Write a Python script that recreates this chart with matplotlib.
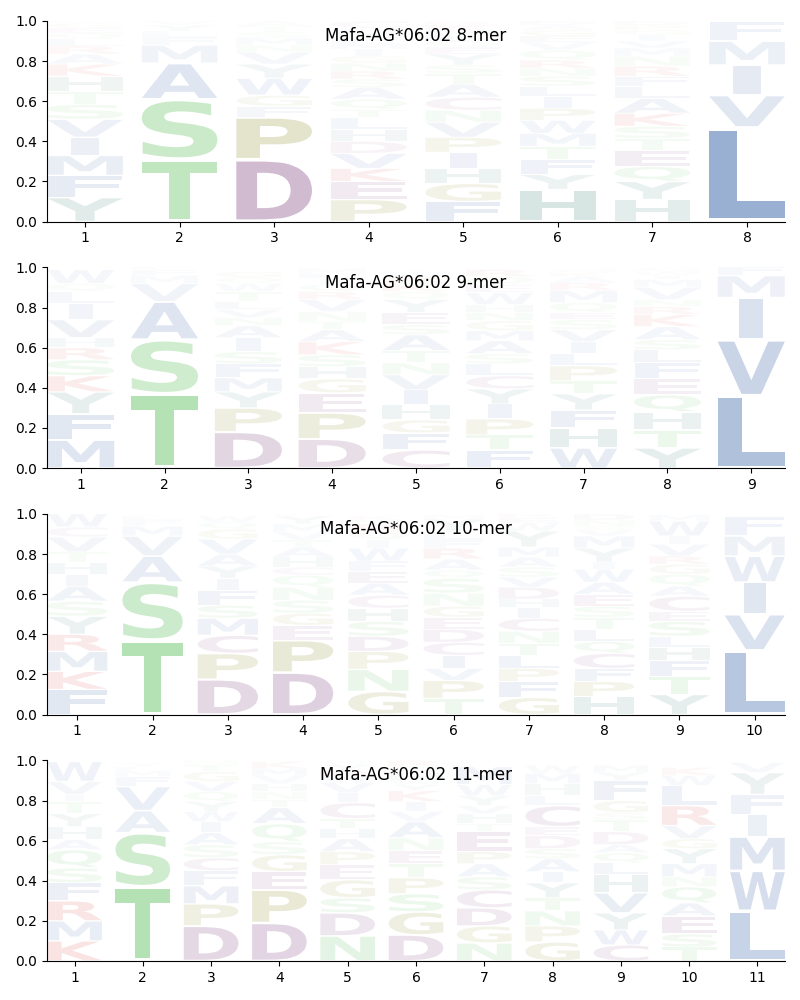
import matplotlib
matplotlib.use("Agg")
import matplotlib.pyplot as plt
from matplotlib.textpath import TextPath
from matplotlib.patches import PathPatch
from matplotlib.font_manager import FontProperties
from matplotlib.transforms import Affine2D

# --- 8-mer: letters bottom -> top per position, with heights ---
letters_8 = ["YFMIVSTHKARLQEGN", "TSAMFLYV", "DPFGWYVNMSTA", "PEKVDHLTQASRNGIMFYWC",
             "FGHIPVNCATSYEQLMKR", "HYFTMWPILSNRQVEGAD", "HYQETSKALFRNMVIGPD", "LVIMF"]
heights_8 = [
    [.12, .11, .10, .09, .09, .075, .065, .075, .06, .05, .04, .035, .03, .025, .025, .02],
    [.31, .30, .18, .09, .04, .03, .03, .02],
    [.31, .21, .055, .055, .085, .07, .06, .035, .035, .03, .03, .025],
    [.11, .09, .065, .075, .06, .06, .06, .04, .05, .06, .04, .04, .04, .035, .035, .03, .03, .025, .02, .035],
    [.10, .09, .075, .08, .075, .075, .06, .065, .065, .055, .04, .055, .035, .03, .03, .025, .025, .02],
    [.16, .075, .075, .065, .065, .065, .06, .06, .05, .05, .04, .04, .05, .04, .03, .03, .025, .02],
    [.11, .09, .075, .08, .06, .06, .065, .075, .06, .05, .05, .05, .04, .035, .03, .025, .025, .02],
    [.47, .16, .15, .12, .10],
]

# --- 9-mer ---
letters_9 = ["MFYKSRHVILQW", "TSAVMFL", "DPYMFSIANVLTWQG", "DPEGHSKATNVRQILM",
             "CFGHIVNTASEYQKRW", "FTPIYCLSAMGNHWEQR", "WHFYTPLIVSEQMRAKG",
             "YTHQEFLSAKRNVMIWG", "LVIMF"]
heights_9 = [
    [.14, .13, .11, .08, .08, .06, .05, .09, .08, .06, .04, .07],
    [.37, .27, .19, .09, .04, .03, .02],
    [.18, .12, .08, .07, .07, .06, .07, .06, .04, .04, .04, .05, .04, .03, .03],
    [.145, .13, .10, .07, .06, .06, .065, .06, .04, .05, .06, .04, .035, .03, .025, .025],
    [.09, .085, .065, .075, .075, .075, .06, .06, .08, .05, .06, .065, .04, .04, .035, .025],
    [.09, .075, .08, .075, .075, .065, .06, .05, .065, .05, .05, .04, .04, .06, .04, .04, .035],
    [.10, .10, .09, .08, .065, .075, .06, .06, .06, .05, .035, .05, .06, .04, .03, .02, .02],
    [.10, .09, .09, .085, .08, .08, .065, .05, .065, .06, .04, .035, .06, .04, .02, .02, .02],
    [.36, .28, .21, .11, .05],
]

# --- 10-mer ---
letters_10 = ["FKMRYSAIHTVCW", "TSAVMFLY", "DPCMSFIYAVGQW", "DPEGSNQCHATVMYF",
              "GNPDSHCAEFWIQRYK", "TPVICDEGNSQARFLYM", "GFPLTNCIHDVSAMYWER",
              "HPFCQLTSEAWIYMVGND", "YTFHLSECAQGRVIWM", "LVIWMF"]
heights_10 = [
    [.125, .09, .10, .085, .09, .075, .075, .06, .06, .05, .075, .05, .07],
    [.37, .29, .13, .10, .05, .03, .02, .01],
    [.175, .13, .09, .085, .065, .075, .06, .06, .06, .075, .05, .035, .03],
    [.21, .16, .075, .06, .065, .065, .06, .04, .05, .05, .035, .04, .04, .04, .01],
    [.115, .11, .09, .075, .075, .065, .065, .06, .06, .05, .065, .04, .04, .04, .02, .02],
    [.08, .09, .06, .065, .065, .065, .06, .055, .065, .075, .04, .055, .055, .04, .04, .065, .02],
    [.085, .08, .065, .065, .06, .06, .065, .055, .04, .06, .05, .05, .05, .05, .08, .04, .025, .02],
    [.09, .075, .065, .075, .06, .06, .06, .055, .06, .06, .065, .035, .07, .06, .03, .02, .03, .03],
    [.10, .09, .08, .065, .055, .075, .05, .075, .05, .06, .05, .04, .06, .04, .075, .03],
    [.32, .18, .16, .13, .10, .10],
]

# --- 11-mer ---
letters_11 = ["KMRFSQAHYTIVW", "TSAVFMLY", "DPMFCSAIWYQVGTN", "DPEGSQATNHVMK",
              "NDSGEPAHTCIVWRYQ", "DGSPTENAVIKYWHQR", "NGDCSAPETHVYWM",
              "GPNTYIASDECLHMW", "CWYVHLQADTSGFYM", "TSEAQNMYGVRLWK", "LWMIFYV"]
heights_11 = [
    [.10, .10, .10, .09, .075, .09, .05, .065, .065, .06, .035, .065, .10],
    [.37, .27, .11, .12, .05, .03, .02, .02],
    [.175, .11, .09, .075, .065, .065, .06, .055, .05, .05, .05, .05, .05, .035, .02],
    [.19, .165, .09, .085, .065, .09, .08, .04, .04, .04, .04, .035, .035],
    [.125, .115, .075, .09, .075, .065, .065, .05, .05, .08, .05, .05, .03, .03, .03, .02],
    [.13, .115, .09, .08, .07, .065, .065, .08, .05, .05, .055, .03, .02, .04, .03, .03],
    [.09, .085, .09, .09, .065, .065, .06, .10, .04, .05, .04, .05, .055, .09],
    [.095, .08, .075, .065, .075, .055, .065, .05, .065, .045, .105, .05, .06, .05, .04],
    [.08, .075, .085, .10, .09, .06, .05, .04, .065, .06, .035, .06, .10, .04, .035],
    [.07, .065, .09, .065, .08, .05, .065, .075, .05, .065, .10, .10, .05, .04],
    [.25, .20, .17, .11, .10, .11, .05],
]

titles = ["Mafa-AG*06:02 8-mer", "Mafa-AG*06:02 9-mer",
          "Mafa-AG*06:02 10-mer", "Mafa-AG*06:02 11-mer"]

# colour groups
BLUE, GREEN, PURPLE, OLIVE, TEAL, RED = "#4c72b0", "#5cc05c", "#874e87", "#8f8f2b", "#3c8278", "#d62728"
COLORS = {}
for c in "AVLIMFW": COLORS[c] = BLUE
for c in "STNQ": COLORS[c] = GREEN
for c in "DEC": COLORS[c] = PURPLE
for c in "PG": COLORS[c] = OLIVE
for c in "HY": COLORS[c] = TEAL
for c in "KR": COLORS[c] = RED

FP = FontProperties(family="DejaVu Sans", weight="bold")
GLYPH_W = 0.8
E_WIDTH = TextPath((0, 0), "E", size=1, prop=FP).get_extents().width


def draw_glyph(ax, ch, x, y, h):
    path = TextPath((0, 0), ch, size=1, prop=FP)
    ext = path.get_extents()
    pad = h * 0.035
    sx = min(GLYPH_W / ext.width, GLYPH_W / E_WIDTH)
    w = ext.width * sx
    sy = (h - 2 * pad) / ext.height
    tr = (Affine2D().translate(-ext.x0, -ext.y0).scale(sx, sy)
          .translate(x - w / 2, y + pad))
    # letters higher in the stack are drawn fainter
    alpha = min(1.0, 1.3 * h * (1 - 0.35 * (y + h / 2)))
    ax.add_patch(PathPatch(tr.transform_path(path), facecolor=COLORS[ch],
                           edgecolor="none", lw=0, alpha=alpha))


def plot_logo(ax, title, letters, heights):
    for i, (col, hs) in enumerate(zip(letters, heights)):
        y = 0.0
        for ch, h in zip(col, hs):
            draw_glyph(ax, ch, i + 1, y, h)
            y += h
    n = len(letters)
    ax.set_xlim(0.6, n + 0.4)
    ax.set_ylim(0, 1)
    ax.set_xticks(range(1, n + 1))
    ax.set_yticks([0, 0.2, 0.4, 0.6, 0.8, 1.0])
    ax.spines["top"].set_visible(False)
    ax.spines["right"].set_visible(False)
    ax.text(0.5, 0.925, title, transform=ax.transAxes, ha="center", va="center",
            fontsize=12, zorder=5)


fig, axes = plt.subplots(4, 1, figsize=(8, 10), dpi=100)
fig.subplots_adjust(left=0.059, right=0.981, top=0.979, bottom=0.039, hspace=0.229)
plot_logo(axes[0], titles[0], letters_8, heights_8)
plot_logo(axes[1], titles[1], letters_9, heights_9)
plot_logo(axes[2], titles[2], letters_10, heights_10)
plot_logo(axes[3], titles[3], letters_11, heights_11)
fig.savefig("out.png", dpi=100)
